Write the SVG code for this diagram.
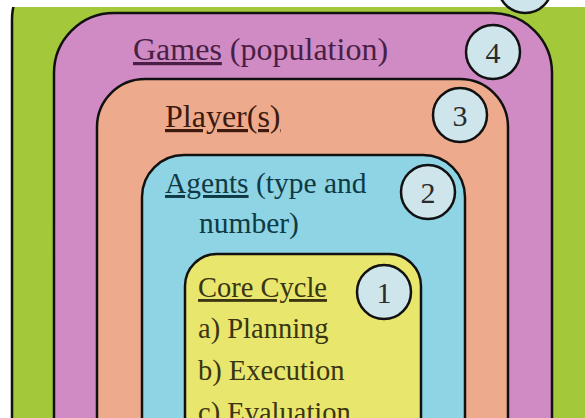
<svg xmlns="http://www.w3.org/2000/svg" width="585" height="418" viewBox="0 0 585 418">
<style>
.box{stroke:#111;stroke-width:2.5}
.badge{fill:#cfe5ec;stroke:#111;stroke-width:2.5}
.num{font-family:"Liberation Serif","Times New Roman",serif;font-size:30px;fill:#2a2a2a;text-anchor:middle}
.t{font-family:"Liberation Serif","Times New Roman",serif}
.u{text-decoration:underline}
</style>
<rect x="0" y="0" width="585" height="418" fill="#ffffff"/>
<g id="population-env">
<rect class="box" x="12" y="-40" width="640" height="520" rx="60" fill="#a3c93a"/>
<rect x="0" y="0" width="585" height="7" fill="#ffffff"/>
<circle class="badge" cx="525" cy="-14" r="27"/>
</g>
<g id="games">
<rect class="box" x="54" y="13" width="498" height="520" rx="60" fill="#d08bc4"/>
<text class="t" x="133" y="60" font-size="32" fill="#4a1f45"><tspan class="u">Games</tspan> (population)</text>
<circle class="badge" cx="493" cy="52" r="27"/>
<text class="num" x="493" y="63">4</text>
</g>
<g id="players">
<rect class="box" x="97" y="79" width="411" height="460" rx="48" fill="#eeaa8c"/>
<text class="t u" x="165" y="127" font-size="32" fill="#3d1a0e">Player(s)</text>
<circle class="badge" cx="460" cy="115" r="27"/>
<text class="num" x="460" y="126">3</text>
</g>
<g id="agents">
<rect class="box" x="142" y="155" width="323" height="400" rx="42" fill="#8ed4e4"/>
<text class="t" x="165" y="193" font-size="29.5" fill="#0f3a45"><tspan class="u">Agents</tspan> (type and</text>
<text class="t" x="199" y="233" font-size="29.5" fill="#0f3a45">number)</text>
<circle class="badge" cx="428" cy="192" r="27"/>
<text class="num" x="428" y="203">2</text>
</g>
<g id="core-cycle">
<rect class="box" x="185" y="254" width="236" height="300" rx="32" fill="#e8e66c"/>
<text class="t u" x="198" y="297" font-size="28.5" fill="#3a3512">Core Cycle</text>
<text class="t" x="198" y="338" font-size="28.5" fill="#3a3512">a) Planning</text>
<text class="t" x="198" y="380" font-size="28.5" fill="#3a3512">b) Execution</text>
<text class="t" x="198" y="422" font-size="28.5" fill="#3a3512">c) Evaluation</text>
<circle class="badge" cx="384" cy="292" r="27"/>
<text class="num" x="384" y="303">1</text>
</g>
</svg>
